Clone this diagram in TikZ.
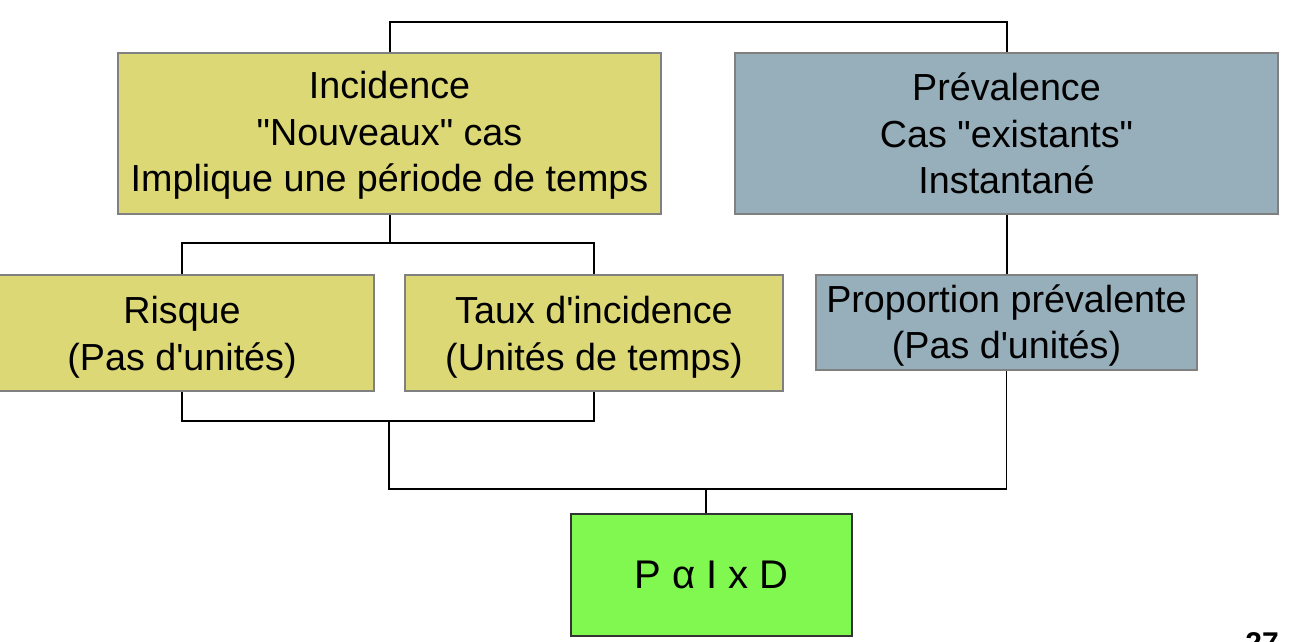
\documentclass[tikz,border=0pt]{standalone}
\usepackage{fontspec}
\setmainfont{Liberation Sans}[Ligatures=TeXOff]
\definecolor{incY}{RGB}{221,216,118}
\definecolor{prevB}{RGB}{151,174,187}
\definecolor{resG}{RGB}{128,248,80}
\definecolor{edgeG}{RGB}{128,128,128}
\begin{document}
\begin{tikzpicture}[x=1pt,y=-1pt,
  box/.style={draw=edgeG, line width=2.2pt, inner sep=0pt, align=center,
    font=\fontsize{37.7}{46.5}\selectfont},
  link/.style={draw=black, line width=2pt},
  thin/.style={draw=black, line width=1.1pt}]
\useasboundingbox (0,0) rectangle (1290,642);
\node[box, fill=incY, minimum width=543pt, minimum height=161pt] (inc) at (389.5,133.5) {};
\node[align=center, inner sep=0pt, font=\fontsize{37.7}{46.5}\selectfont] (inctxt) at (389.5,135.5)
  {Incidence\\"Nouveaux" cas\\Implique une période de temps};
\node[box, fill=prevB, minimum width=543pt, minimum height=161pt] (prev) at (1006.5,133.5)
  {Prévalence\\Cas "existants"\\Instantané};
\node[box, fill=incY, minimum width=384pt, minimum height=116pt] (risk) at (182,333) {};
\node[align=center, inner sep=0pt, font=\fontsize{37.7}{46.5}\selectfont] (risktxt) at (182,337)
  {Risque\\(Pas d'unités)};
\node[box, fill=incY, minimum width=378pt, minimum height=116pt] (taux) at (594,333) {};
\node[align=center, inner sep=0pt, font=\fontsize{37.7}{46.5}\selectfont] (tauxtxt) at (594,337)
  {Taux d'incidence\\(Unités de temps)};
\node[box, fill=prevB, minimum width=381pt, minimum height=95pt] (prop) at (1006.5,322.5) {};
\node[align=center, inner sep=0pt, font=\fontsize{37.7}{46.5}\selectfont] (proptxt) at (1006.5,325.5)
  {Proportion prévalente\\(Pas d'unités)};
\node[box, draw=black!80, line width=1.5pt, fill=resG, minimum width=281pt, minimum height=122pt,
  font=\fontsize{40}{46}\selectfont] (res) at (711.5,575) {P α I x D};
\node[anchor=north, font=\bfseries\fontsize{30}{36}\selectfont, inner sep=0pt] (pg) at (1262,632) {27};
% top connector
\draw[link] (inc.north) -- (389.5,22) -| (prev.north);
% incidence to its two measures
\draw[link] (inc.south) -- (389.5,243) coordinate (split);
\draw[link] (risk.north) |- (split) -| (taux.north);
% bracket under the two measures
\draw[link] (risk.south) |- (389,421) coordinate (join) -| (taux.south);
% prevalence to proportion
\draw[link] (prev.south) -- (prop.north);
% joining to the result
\draw[thin] (join) -- (389,489) coordinate (bl) -- (1006.5,489) -- (prop.south);
\coordinate (drop) at (706,489);
\draw[thin] (drop) -- (drop |- res.north);
\end{tikzpicture}
\end{document}
